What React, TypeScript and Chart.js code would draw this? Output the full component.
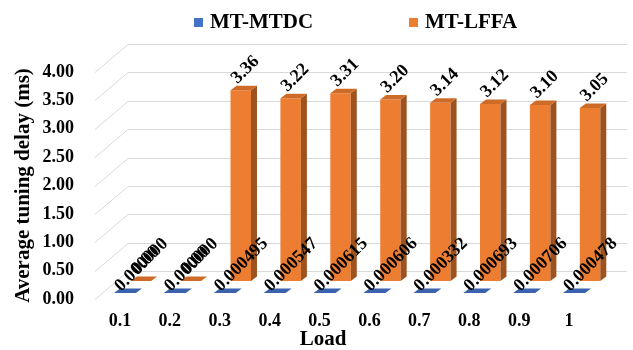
import React, { useEffect, useRef } from 'react';
import { Chart, registerables } from 'chart.js';

Chart.register(...registerables);

// Load levels on the category axis
const loads = ['0.1', '0.2', '0.3', '0.4', '0.5', '0.6', '0.7', '0.8', '0.9', '1'];
// Average tuning delay (ms) per load
const mtdcDelay = [0.0, 0.0, 0.000495, 0.000547, 0.000615, 0.000606, 0.000332, 0.000693, 0.000706, 0.000478];
const lffaDelay = [0.0, 0.0, 3.36, 3.22, 3.31, 3.2, 3.14, 3.12, 3.1, 3.05];
const seriesNames = ['MT-MTDC', 'MT-LFFA'];
const yTicks = [0, 0.5, 1, 1.5, 2, 2.5, 3, 3.5, 4];
const labelDecimals = [6, 2];

const FONT = '"Liberation Serif", "Times New Roman", serif';

// Oblique projection: back wall, per-series depth rows, bar thickness
const WALL = { dx: 33, dy: -28 };
const ROW = [
  { dx: 5, dy: -6 },
  { dx: 21, dy: -18 },
];
const BOX = { dx: 6, dy: -4.5 };

const FRONT = ['#4472C4', '#ED7D31'];
const TOP = ['#3B62AC', '#CF6B28'];
const SIDE = ['#2F528F', '#9E521D'];

function quad(ctx: CanvasRenderingContext2D, pts: number[][], color: string) {
  ctx.beginPath();
  ctx.moveTo(pts[0][0], pts[0][1]);
  for (let i = 1; i < pts.length; i++) ctx.lineTo(pts[i][0], pts[i][1]);
  ctx.closePath();
  ctx.fillStyle = color;
  ctx.fill();
}

const depthPlugin = {
  id: 'depth3d',
  beforeDatasetsDraw(chart: any) {
    const { ctx, chartArea, scales } = chart;
    const y = scales.y;
    ctx.save();
    ctx.strokeStyle = '#d9d9d9';
    ctx.lineWidth = 1;
    for (const v of yTicks) {
      const py = Math.round(y.getPixelForValue(v)) + 0.5;
      ctx.beginPath();
      ctx.moveTo(chartArea.left, py);
      ctx.lineTo(chartArea.left + WALL.dx, py + WALL.dy);
      ctx.lineTo(chartArea.right + WALL.dx, py + WALL.dy);
      ctx.stroke();
    }
    ctx.restore();
  },
  beforeDatasetDraw(chart: any, args: any) {
    const off = ROW[args.index];
    chart.ctx.save();
    chart.ctx.translate(off.dx, off.dy);
  },
  afterDatasetDraw(chart: any, args: any) {
    const ctx: CanvasRenderingContext2D = chart.ctx;
    const i = args.index;
    args.meta.data.forEach((bar: any) => {
      const { x, y, base, width } = bar.getProps(['x', 'y', 'base', 'width'], true);
      const x1 = x - width / 2;
      const x2 = x + width / 2;
      const top = Math.min(y, base);
      const bottom = Math.max(y, base);
      quad(
        ctx,
        [
          [x2, top],
          [x2 + BOX.dx, top + BOX.dy],
          [x2 + BOX.dx, bottom + BOX.dy],
          [x2, bottom],
        ],
        SIDE[i]
      );
      quad(
        ctx,
        [
          [x1, top],
          [x2, top],
          [x2 + BOX.dx, top + BOX.dy],
          [x1 + BOX.dx, top + BOX.dy],
        ],
        TOP[i]
      );
    });
    ctx.restore();
  },
  afterDatasetsDraw(chart: any) {
    const ctx: CanvasRenderingContext2D = chart.ctx;
    ctx.save();
    ctx.fillStyle = '#000';
    ctx.font = `bold 18px ${FONT}`;
    ctx.textAlign = 'left';
    ctx.textBaseline = 'alphabetic';
    const lift = [1, 6];
    [1, 0].forEach((i) => {
      const meta = chart.getDatasetMeta(i);
      const values = chart.data.datasets[i].data as number[];
      meta.data.forEach((bar: any, j: number) => {
        const { x, y, base, width } = bar.getProps(['x', 'y', 'base', 'width'], true);
        const top = Math.min(y, base);
        const ax = x - width / 2 + ROW[i].dx + 7;
        const ay = top + ROW[i].dy - lift[i];
        ctx.save();
        ctx.translate(ax, ay);
        ctx.rotate((-45 * Math.PI) / 180);
        ctx.fillText(values[j].toFixed(labelDecimals[i]), 0, 0);
        ctx.restore();
      });
    });
    ctx.restore();
  },
  afterDraw(chart: any) {
    const ctx: CanvasRenderingContext2D = chart.ctx;
    ctx.save();
    // legend
    const legendX = [[194, 210], [409, 425]];
    ctx.font = `bold 21px ${FONT}`;
    ctx.textBaseline = 'middle';
    ctx.textAlign = 'left';
    seriesNames.forEach((name, i) => {
      ctx.fillStyle = FRONT[i];
      ctx.fillRect(legendX[i][0], 18, 9, 9);
      ctx.fillStyle = '#000';
      ctx.fillText(name, legendX[i][1], 23);
    });
    // category axis title
    ctx.textAlign = 'center';
    ctx.fillText('Load', 323, 340);
    ctx.restore();
  },
};

export default function App() {
  const canvasRef = useRef<HTMLCanvasElement | null>(null);

  useEffect(() => {
    if (!canvasRef.current) return;
    const chart = new Chart(canvasRef.current, {
      type: 'bar',
      data: {
        labels: loads,
        datasets: [
          {
            label: seriesNames[0],
            data: mtdcDelay,
            backgroundColor: FRONT[0],
            grouped: false,
            clip: false,
            categoryPercentage: 1,
            barPercentage: 0.44,
          } as any,
          {
            label: seriesNames[1],
            data: lffaDelay,
            backgroundColor: FRONT[1],
            grouped: false,
            clip: false,
            categoryPercentage: 1,
            barPercentage: 0.41,
          } as any,
        ],
      },
      options: {
        responsive: false,
        animation: false,
        events: [],
        layout: { padding: { top: 72, right: 39, left: 0, bottom: 0 } },
        plugins: {
          legend: { display: false },
          tooltip: { enabled: false },
        },
        scales: {
          x: {
            grid: { display: false, drawTicks: false },
            border: { display: false },
            ticks: {
              color: '#000',
              padding: 12,
              maxRotation: 0,
              font: { family: FONT, size: 18, weight: 'bold' },
            },
            afterFit: (s: any) => {
              s.height = 51;
            },
          },
          y: {
            min: 0,
            max: 4,
            grid: { display: false, drawTicks: false },
            border: { display: false },
            afterBuildTicks: (s: any) => {
              s.ticks = yTicks.map((v) => ({ value: v }));
            },
            ticks: {
              color: '#000',
              padding: 21,
              font: { family: FONT, size: 18, weight: 'bold' },
              callback: (v: any) => Number(v).toFixed(2),
            },
            title: {
              display: true,
              text: 'Average tuning delay (ms)',
              color: '#000',
              font: { family: FONT, size: 21, weight: 'bold' },
              padding: { top: 11, bottom: 0 },
            },
            afterFit: (s: any) => {
              s.width = 95;
            },
          },
        },
      } as any,
      plugins: [depthPlugin],
    });
    return () => chart.destroy();
  }, []);

  return (
    <div style={{ position: 'fixed', left: 0, top: 0, width: 633, height: 350, background: '#fff' }}>
      <canvas ref={canvasRef} width={633} height={350} />
    </div>
  );
}
